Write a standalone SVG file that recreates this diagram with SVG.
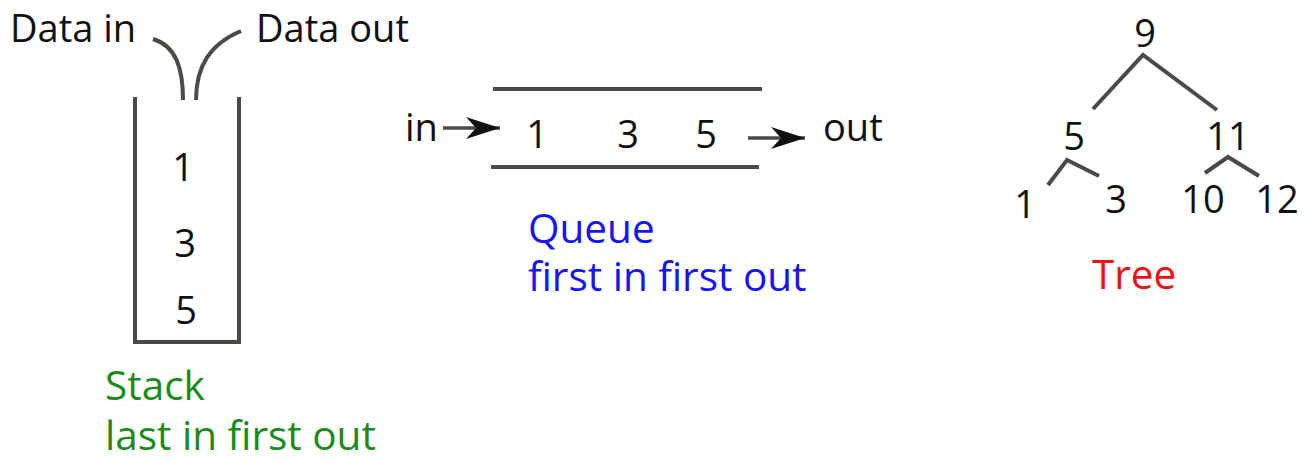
<svg xmlns="http://www.w3.org/2000/svg" width="1311" height="461" viewBox="0 0 1311 461">
<style>
text{font-family:"Open Sans","DejaVu Sans",sans-serif;font-size:38px;fill:#111}
.ln{stroke:#4a4a46;stroke-width:4;fill:none;stroke-linecap:butt}
.ar{stroke:#4a4a46;stroke-width:3.5;fill:none}
.lbl{font-size:40.5px}
</style>
<defs>
<marker id="ah" viewBox="0 0 34 22" refX="34" refY="11" markerWidth="34" markerHeight="22" markerUnits="userSpaceOnUse" orient="auto">
<path d="M0,0 L34,11 L0,22 L10,11 Z" fill="#111"/>
</marker>
</defs>
<rect width="1311" height="461" fill="#fff"/>
<g id="stack">
<path class="ln" d="M135,97 V342 H239 V97"/>
<text x="183" y="181" text-anchor="middle">1</text>
<text x="185" y="257" text-anchor="middle">3</text>
<text x="186" y="324" text-anchor="middle">5</text>
<text x="10" y="42">Data in</text>
<text x="256" y="42">Data out</text>
<text class="lbl" x="105" y="400" style="fill:#1a8c1a">Stack</text>
<text class="lbl" x="105" y="450" style="fill:#1a8c1a">last in first out</text>
</g>
<g id="queue">
<line class="ln" x1="493" y1="89" x2="762" y2="89"/>
<line class="ln" x1="491" y1="167" x2="759" y2="167"/>
<text x="405" y="141">in</text>
<text x="537" y="148" text-anchor="middle">1</text>
<text x="628" y="148" text-anchor="middle">3</text>
<text x="706" y="148" text-anchor="middle">5</text>
<text x="823" y="141">out</text>
<text class="lbl" x="528" y="243" style="fill:#1515f5">Queue</text>
<text class="lbl" x="528" y="291" style="fill:#1515f5">first in first out</text>
</g>
<g id="tree">
<text x="1145" y="47" text-anchor="middle">9</text>
<text x="1074" y="150" text-anchor="middle">5</text>
<text x="1228" y="150" text-anchor="middle">11</text>
<text x="1025" y="218" text-anchor="middle">1</text>
<text x="1116" y="213" text-anchor="middle">3</text>
<text x="1203" y="213" text-anchor="middle">10</text>
<text x="1277" y="213" text-anchor="middle">12</text>
<text class="lbl" x="1092" y="289" style="fill:#f51010">Tree</text>
</g>
<g id="connectors">
<path class="ln" d="M153,39 C176,46 183,68 183,100"/>
<path class="ln" d="M241,31 C210,44 196,66 196,100"/>
<line class="ar" x1="443" y1="128" x2="500" y2="128" marker-end="url(#ah)"/>
<line class="ar" x1="748" y1="138" x2="805" y2="138" marker-end="url(#ah)"/>
<polyline class="ln" points="1093,109 1143,55 1217,110"/>
<polyline class="ln" points="1048,185 1067,160 1099,176"/>
<polyline class="ln" points="1205,173 1228,157 1259,176"/>
</g>
</svg>
